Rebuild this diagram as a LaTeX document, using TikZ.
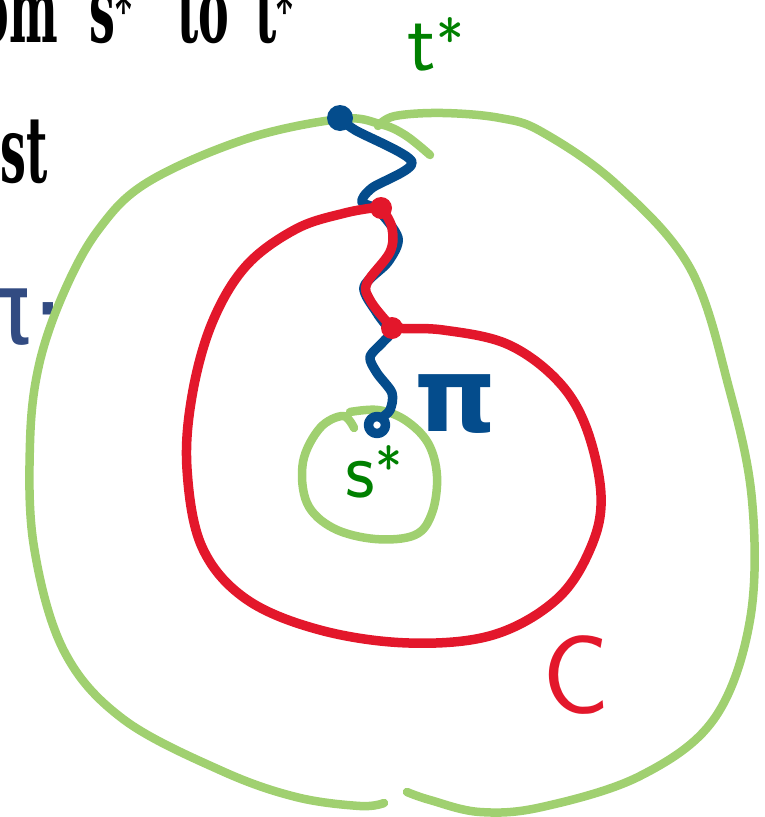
\documentclass[tikz,border=0pt]{standalone}
\usepackage{fontspec}
\newfontfamily\slidefont[FakeStretch=0.5]{DejaVu Serif}
\newfontfamily\handfont{DejaVu Sans}
\definecolor{ringgreen}{RGB}{160,208,112}
\definecolor{cutred}{RGB}{227,23,43}
\definecolor{pathblue}{RGB}{4,76,140}
\definecolor{inkgreen}{RGB}{0,128,0}
\definecolor{inkblue}{RGB}{50,75,130}

\begin{document}
\begin{tikzpicture}[x=1pt,y=-1pt,
    ring/.style={draw=ringgreen, line width=8.5pt, line cap=round, line join=round},
    cut/.style={draw=cutred, line width=9.5pt, line cap=round, line join=round},
    walk/.style={draw=pathblue, line width=9.5pt, line cap=round, line join=round},
    slide/.style={inner sep=0pt, font=\slidefont\bfseries\fontsize{92}{100}\selectfont}]
    \clip (0,0) rectangle (765,817);
    \useasboundingbox (0,0) rectangle (765,817);
    % slide text, cut off by the frame
    \node[slide, anchor=base east] (wfrom) at (58,42) {om};
    \node[slide, anchor=base west] (ws) at (89,42) {s\textsuperscript{*}};
    \node[slide, anchor=base west] (wto) at (177,42) {to};
    \node[slide, anchor=base west] (wt) at (255,42) {t\textsuperscript{*}};
    \node[slide, anchor=base west] (wst) at (0,182) {st};
    \node[text=inkblue, inner sep=0pt, anchor=base east, font=\handfont\fontsize{100}{100}\selectfont] (pistub) at (64,343) {π·};
    % outer ring, two strokes
    \draw[ring] plot[smooth, tension=0.6] coordinates {(430,155) (405,135) (380,124) (340,119) (246,139) (148,182) (99,229) (64,292) (39,365) (30,443) (34,547) (64,651) (123,719) (222,771) (296,797) (360,806) (384,803)};
    \draw[ring] plot[smooth, tension=0.6] coordinates {(378,126) (395,116) (443,113) (500,118) (542,132) (616,184) (690,268) (729,388) (752,500) (750,620) (714,719) (640,776) (542,807) (480,812) (430,800) (407,792)};
    % inner ring round s*
    \draw[ring] plot[smooth, tension=0.6] coordinates {(354,428) (343,416) (320,428) (303,462) (307,503) (333,528) (375,539) (415,535) (432,513) (437,476) (428,443) (405,420) (378,410) (350,412)};
    % the path pi
    \draw[walk] plot[smooth, tension=0.5] coordinates {(340,118) (355,130) (412,162) (372,188) (362,202) (378,210) (398,238) (388,262) (364,287) (377,313) (390,332) (383,342) (370,357) (377,373) (392,393) (390,410) (381,418)};
    \fill[pathblue] (340,118) circle (13pt);
    \draw[walk] (377,425) circle (8.5pt);
    % the cycle C
    \draw[cut] plot[smooth, tension=0.6] coordinates {(380,207) (345,213) (296,229) (246,266) (212,323) (192,396) (187,469) (202,547) (246,599) (320,630) (409,643) (493,635) (557,599) (591,547) (601,495) (586,427) (557,380) (507,344) (443,330) (394,328) (387,322) (370,300) (367,283) (390,252) (392,228) (383,210)};
    \fill[cutred] (381,208) circle (11pt);
    \fill[cutred] (392,328) circle (11pt);
    % labels
    \node[text=inkgreen, font=\sffamily\fontsize{84}{84}\selectfont] (tstar) at (436,44) {t\textsuperscript{*}};
    \node[text=inkgreen, font=\sffamily\fontsize{82}{82}\selectfont] (sstar) at (374,472) {s\textsuperscript{*}};
    \node[text=pathblue, font=\handfont\bfseries\fontsize{104}{104}\selectfont] (pilabel) at (456,404) {π};
    \node[text=cutred, font=\sffamily\fontsize{112}{112}\selectfont] (clabel) at (576,675) {C};
\end{tikzpicture}
\end{document}
